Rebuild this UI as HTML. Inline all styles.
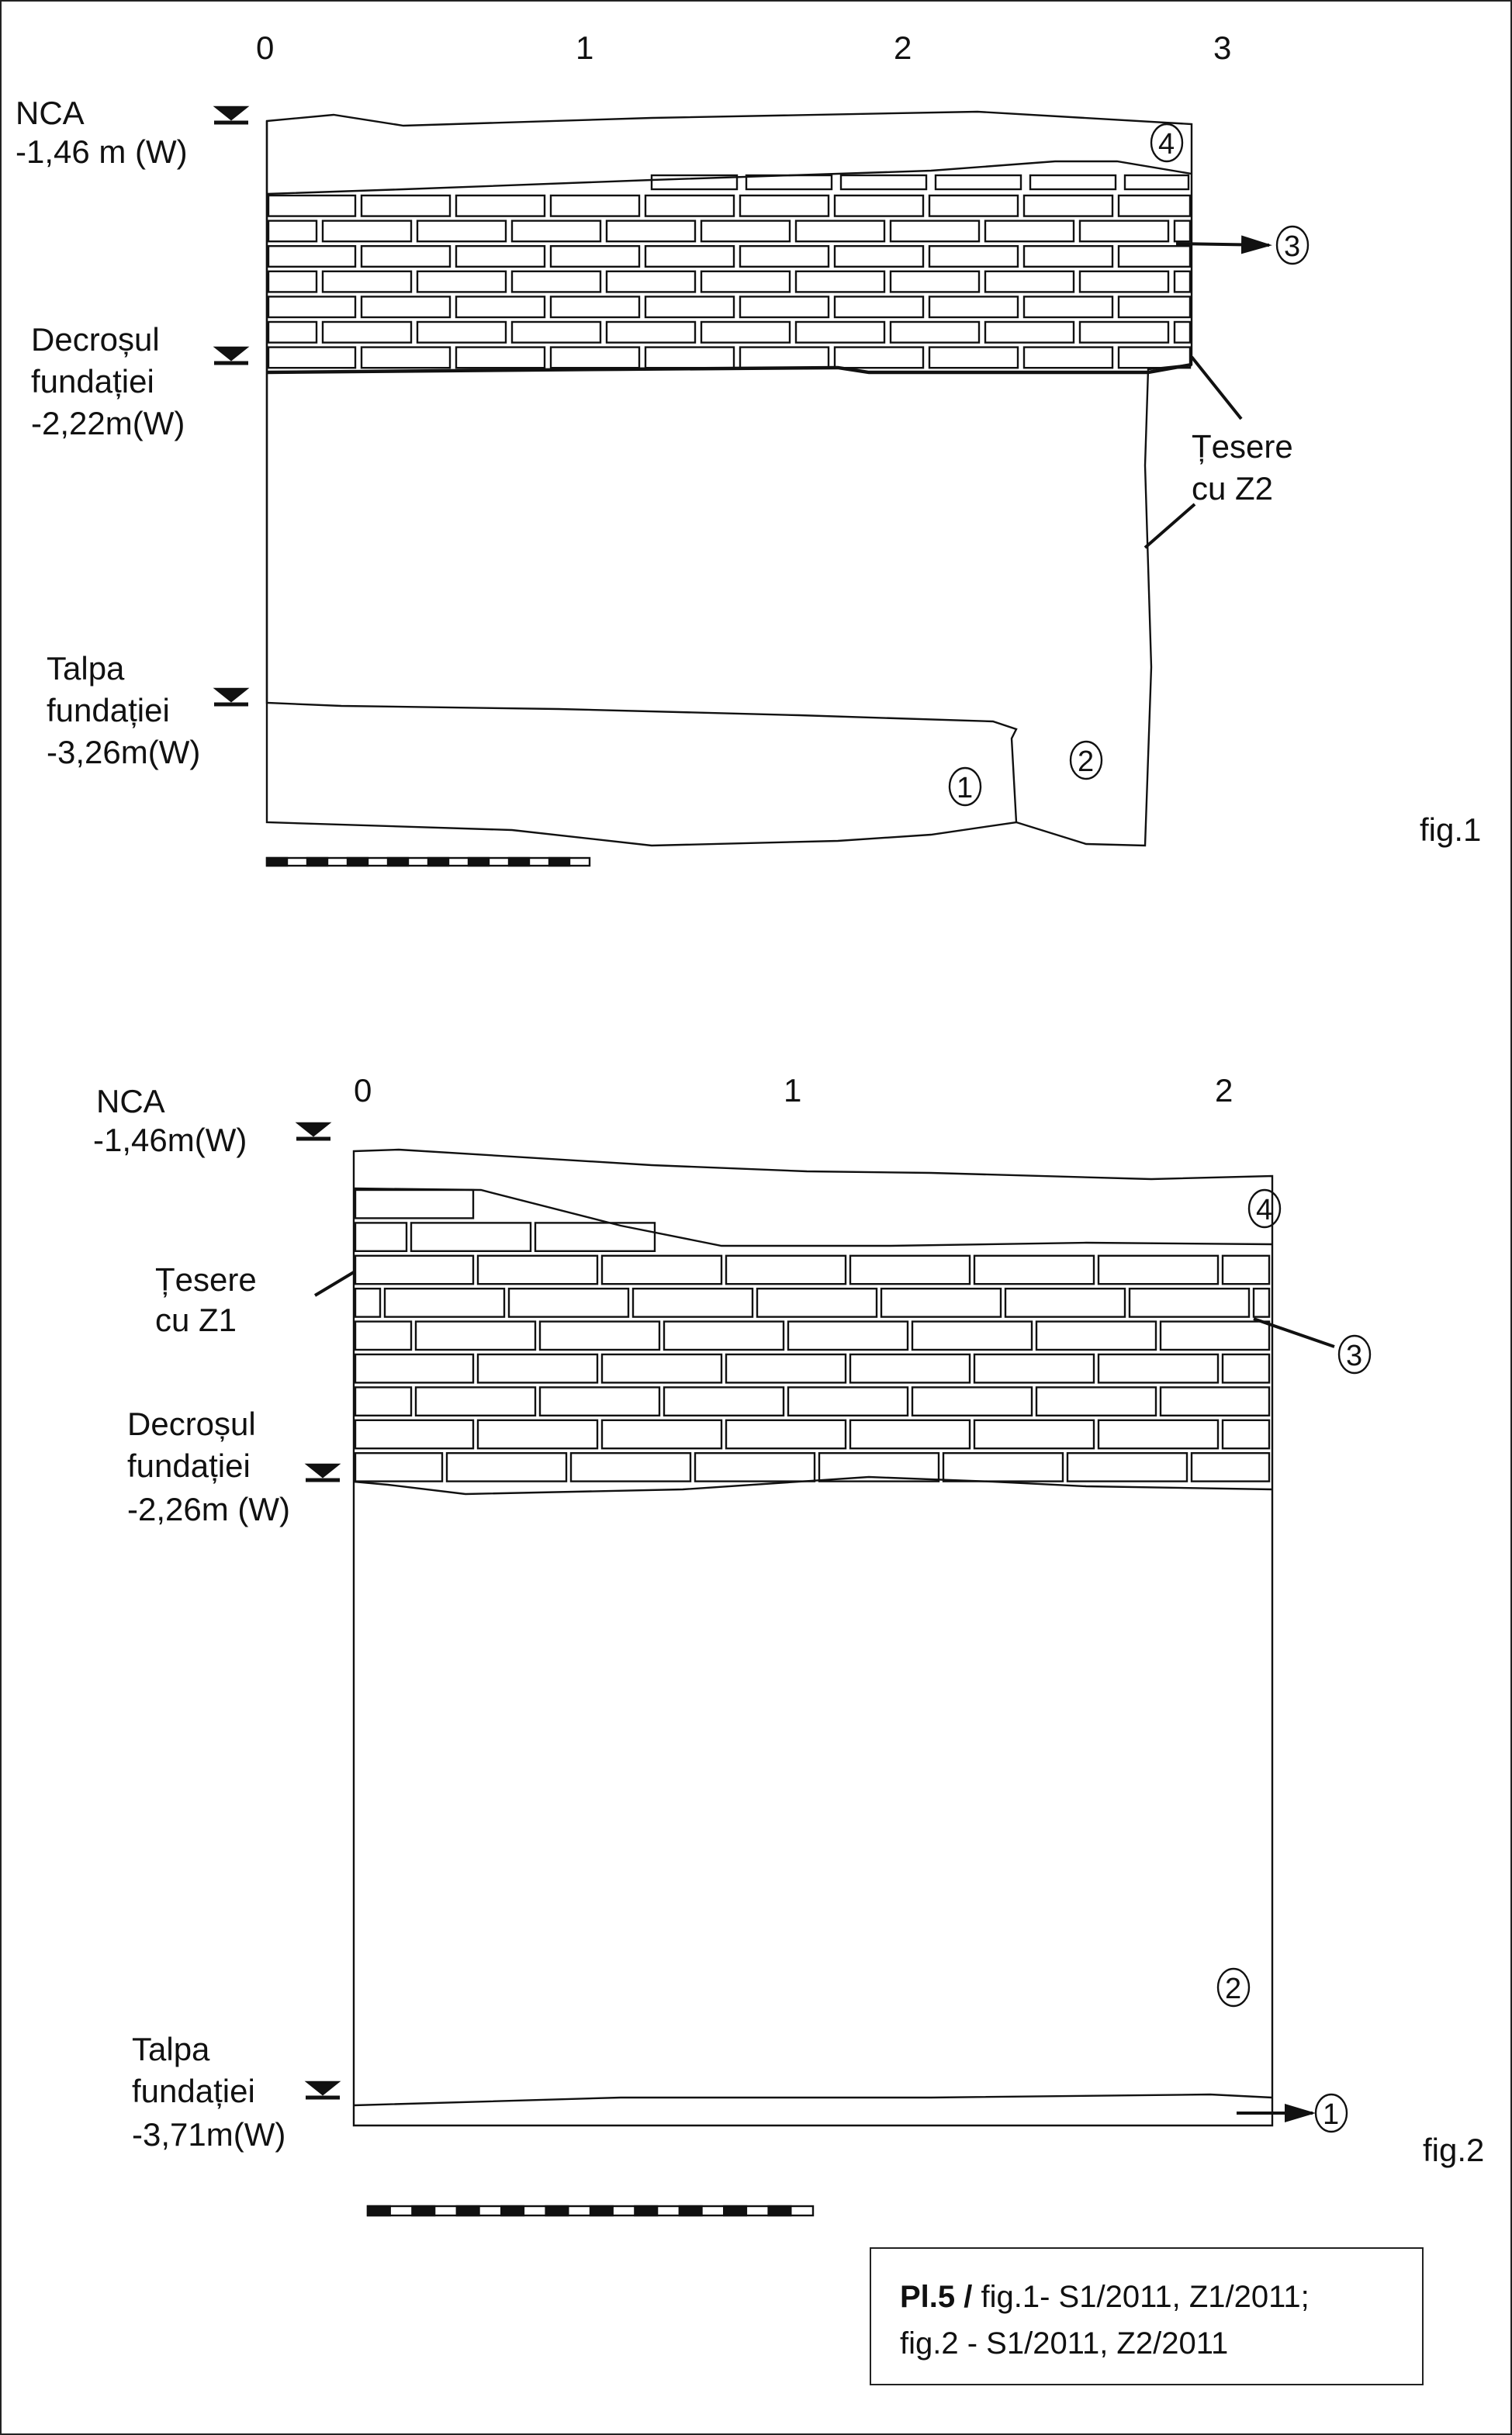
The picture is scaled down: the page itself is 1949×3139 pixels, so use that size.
<!DOCTYPE html>
<html><head><meta charset="utf-8"><style>
html,body{margin:0;padding:0;background:#fff}
svg{display:block}
text{font-family:"Liberation Sans",sans-serif;fill:#111}
</style></head><body>
<svg id="s" width="1949" height="3139" viewBox="0 0 974.5 1569.5" xmlns="http://www.w3.org/2000/svg">
<rect x="0.5" y="0.5" width="973.5" height="1568.5" fill="#fff" stroke="#222" stroke-width="1"/>
<defs><marker id="ar" markerWidth="10" markerHeight="6" refX="9" refY="3" orient="auto"><path d="M0,0 L10,3 L0,6z" fill="#111"/></marker></defs>
<g font-size="21">
<text x="165" y="38">0</text><text x="371" y="38">1</text><text x="576" y="38">2</text><text x="782" y="38">3</text>
<text x="10" y="80">NCA</text><text x="10" y="105">-1,46 m (W)</text>
<text x="20" y="226">Decroșul</text><text x="20" y="253">fundației</text><text x="20" y="280">-2,22m(W)</text>
<text x="30" y="438">Talpa</text><text x="30" y="465">fundației</text><text x="30" y="492">-3,26m(W)</text>
<text x="768" y="295">Țesere</text><text x="768" y="322">cu Z2</text>
<text x="915" y="542">fig.1</text>
<text x="228" y="710">0</text><text x="505" y="710">1</text><text x="783" y="710">2</text>
<text x="62" y="717">NCA</text><text x="60" y="742">-1,46m(W)</text>
<text x="100" y="832">Țesere</text><text x="100" y="858">cu Z1</text>
<text x="82" y="925">Decroșul</text><text x="82" y="952">fundației</text><text x="82" y="980">-2,26m (W)</text>
<text x="85" y="1328">Talpa</text><text x="85" y="1355">fundației</text><text x="85" y="1383">-3,71m(W)</text>
<text x="917" y="1393">fig.2</text>
</g>
<g id="g1" fill="none" stroke="#111" stroke-width="1.2"></g>
<rect x="561" y="1449" width="356" height="88" fill="#fff" stroke="#222" stroke-width="1"/>
<text x="580" y="1487" font-size="20"><tspan font-weight="bold">Pl.5 /</tspan> fig.1- S1/2011, Z1/2011;</text>
<text x="580" y="1517" font-size="20">fig.2 - S1/2011, Z2/2011</text>
</svg>
<script>
var g=document.getElementById('g1'),ns='http://www.w3.org/2000/svg';
function el(t,a){var e=document.createElementNS(ns,t);for(var k in a)e.setAttribute(k,a[k]);g.appendChild(e);return e;}
function circ(x,y,n){el('ellipse',{cx:x,cy:y,rx:10,ry:12});var t=el('text',{x:x-5.5,y:y+7,'font-size':19,stroke:'none',fill:'#111'});t.textContent=n;}
function mark(x,y){el('path',{d:'M'+(x-10)+','+(y-6)+' h20 l-10,8z',fill:'#111'});el('path',{d:'M'+(x-11)+','+(y+4)+' h22','stroke-width':2.5});}
el('path',{d:'M172,78 L215,74 L260,81 L420,76 L630,72 L768,80 L768,235 L740,238 L738,300 L742,430 L738,545 L700,544 L655,530 L652,476 L655,470 L640,465 L515,461 L360,457 L220,455 L172,453 Z'});
el('path',{d:'M172,78 L172,530 L330,535 L420,545 L540,542 L600,538 L655,530'});
el('path',{d:'M172,125 L260,122 L420,116 L600,110 L680,104 L720,104 L768,112'});
el('path',{d:'M172,240 L400,238 L540,237 L560,240 L740,240 L768,235','stroke-width':2.2});
var rows=7,y0=125,h=16.3;
for(var r=0;r<rows;r++){var y=y0+r*h+1, off=(r%2)?-25:0;for(var x=172+off;x<768;x+=61){var x1=Math.max(x,173),x2=Math.min(x+57,767);if(x2-x1>6)el('rect',{x:x1,y:y,width:x2-x1,height:h-3});}}
for(var x=420;x<760;x+=61){el('rect',{x:x,y:113,width:Math.min(55,766-x),height:9});}
mark(149,75);mark(149,230);mark(149,450);
circ(752,92,'4');circ(833,158,'3');circ(700,490,'2');circ(622,507,'1');
el('line',{x1:758,y1:157,x2:818,y2:158,'stroke-width':2,'marker-end':'url(#ar)'});
el('line',{x1:768,y1:230,x2:800,y2:270,'stroke-width':2});
el('line',{x1:738,y1:353,x2:770,y2:325,'stroke-width':2});
el('rect',{x:172,y:553,width:208,height:5});
for(var i=0;i<8;i++)el('rect',{x:172+i*26,y:553,width:13,height:5,fill:'#111'});
el('path',{d:'M228,742 L257,741 L420,751 L520,755 L600,756 L742,760 L820,758 L820,1370 L228,1370 Z'});
el('path',{d:'M228,766 L310,767 L400,790 L465,803 L574,803 L700,801 L820,802'});
el('path',{d:'M228,955 L250,957 L300,963 L440,960 L560,952 L640,955 L700,958 L820,960'});
el('path',{d:'M228,1357 L400,1352 L600,1352 L780,1350 L820,1352'});
var y20=766,h2=21.2;
for(var r=0;r<9;r++){var y=y20+r*h2+1,off=[0,-43,0,-60,-40,0,-40,0,-20][r];for(var x=228+off;x<820;x+=80){var x1=Math.max(x,229),x2=Math.min(x+77,818);if(x2-x1>6){if(r==0&&x1>300)continue;if(r==1&&x1>400)continue;el('rect',{x:x1,y:y,width:x2-x1,height:h2-3});}}}
mark(202,730);mark(208,950);mark(208,1348);
circ(815,779,'4');circ(873,873,'3');circ(795,1281,'2');circ(858,1362,'1');
el('line',{x1:228,y1:820,x2:203,y2:835,'stroke-width':2});
el('line',{x1:808,y1:850,x2:860,y2:868,'stroke-width':2});
el('line',{x1:797,y1:1362,x2:846,y2:1362,'stroke-width':2,'marker-end':'url(#ar)'});
el('rect',{x:237,y:1422,width:287,height:6});
for(var i=0;i<10;i++)el('rect',{x:237+i*28.7,y:1422,width:14.35,height:6,fill:'#111'});
</script>
</body></html>
